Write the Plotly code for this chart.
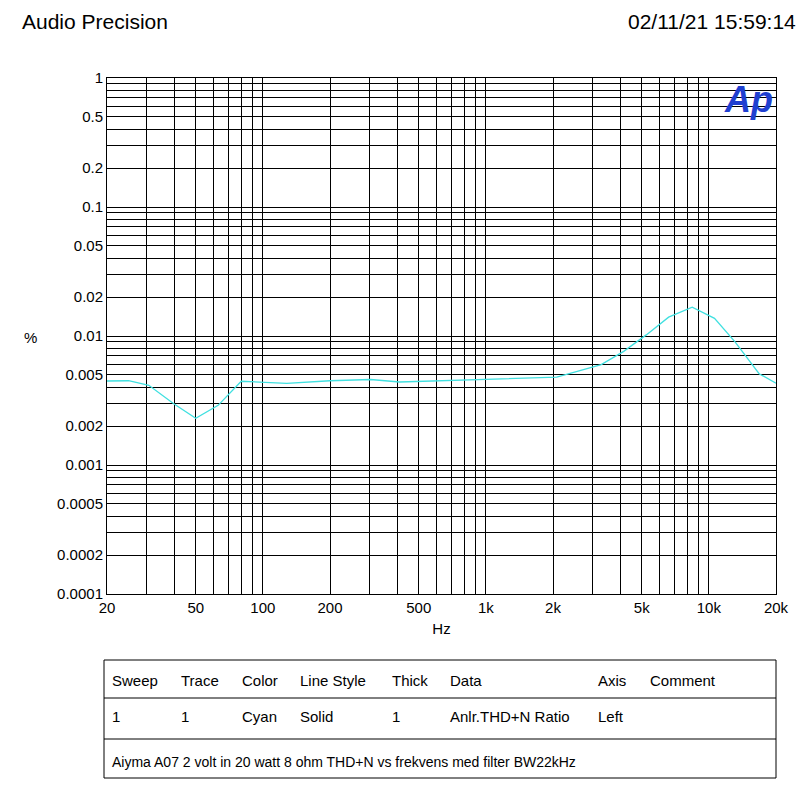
import plotly.graph_objects as go

freq = [20, 25, 30.8, 39.7, 50, 63, 80, 128, 200, 304, 410, 608, 915, 1320, 2080, 3290, 4150, 5240, 6600, 8420, 10600, 13100, 16800, 20000]
thdn = [0.00448, 0.0045, 0.00415, 0.0030, 0.0023, 0.0029, 0.00446, 0.0043, 0.0045, 0.0046, 0.0044, 0.0045, 0.0046, 0.00467, 0.0048, 0.006, 0.0076, 0.0102, 0.014, 0.0167, 0.0137, 0.009, 0.0051, 0.0043]

x_labels = {20: "20", 50: "50", 100: "100", 200: "200", 500: "500", 1000: "1k", 2000: "2k", 5000: "5k", 10000: "10k", 20000: "20k"}
y_labels = {1: "1", 0.5: "0.5", 0.2: "0.2", 0.1: "0.1", 0.05: "0.05", 0.02: "0.02", 0.01: "0.01", 0.005: "0.005",
            0.002: "0.002", 0.001: "0.001", 0.0005: "0.0005", 0.0002: "0.0002", 0.0001: "0.0001"}

xt = []
for d in [10, 100, 1000, 10000]:
    for m in range(1, 10):
        v = m * d
        if 20 <= v <= 20000:
            xt.append(v)
xt.append(20000)
xt = sorted(set(xt))
yt = []
for d in [0.0001, 0.001, 0.01, 0.1]:
    for m in range(1, 10):
        yt.append(round(m * d, 6))
yt.append(1)

def lab(dct, v):
    for k, s in dct.items():
        if abs(k - v) / k < 1e-6:
            return s
    return ""

F = "Liberation Sans, Arial, sans-serif"
fig = go.Figure(go.Scatter(x=freq, y=thdn, mode="lines", line=dict(color="#40E0E0", width=1.3)))

fig.update_layout(
    width=806, height=788, margin=dict(l=99, r=38, t=70, b=202),
    paper_bgcolor="white", plot_bgcolor="white", showlegend=False,
    font=dict(family=F, size=15, color="black"),
)
fig.update_xaxes(type="log", range=[1.30103, 4.30103], tickvals=xt, ticktext=[lab(x_labels, v) for v in xt],
                 showgrid=True, gridcolor="black", gridwidth=1, showline=True, linecolor="black", mirror=True,
                 ticks="", title=dict(text="Hz", font=dict(size=15), standoff=8))
fig.update_yaxes(type="log", range=[-4, 0], tickvals=yt, ticktext=[lab(y_labels, v) for v in yt],
                 showgrid=True, gridcolor="black", gridwidth=1, showline=True, linecolor="black", mirror=True,
                 ticks="")

def px(x): return (x - 107) / 669
def py(y): return (594 - y) / 516

ann = [
    dict(text="Audio Precision", x=px(20), y=py(21), xanchor="left", font=dict(size=21)),
    dict(text="02/11/21 15:59:14", x=px(798), y=py(21), xanchor="right", font=dict(size=21)),
    dict(text="%", x=px(30), y=py(337), xanchor="center", font=dict(size=15)),
    dict(text="<b><i>Ap</i></b>", x=px(748), y=py(100), xanchor="center", font=dict(size=36, color="#1F3FD0")),
]
cols = [("Sweep", 110), ("Trace", 179), ("Color", 240), ("Line Style", 298), ("Thick", 390), ("Data", 448), ("Axis", 596), ("Comment", 648)]
row1 = [("1", 110), ("1", 179), ("Cyan", 240), ("Solid", 298), ("1", 390), ("Anlr.THD+N Ratio", 448), ("Left", 596)]
for t, x in cols:
    ann.append(dict(text=t, x=px(x), y=py(680), xanchor="left"))
for t, x in row1:
    ann.append(dict(text=t, x=px(x), y=py(716), xanchor="left"))
ann.append(dict(text="Aiyma A07 2 volt in 20 watt 8 ohm THD+N vs frekvens med filter BW22kHz", x=px(110), y=py(762), xanchor="left", font=dict(size=14)))
for a in ann:
    a.update(xref="paper", yref="paper", showarrow=False, yanchor="middle")
    fig.add_annotation(**a)

shapes = [
    dict(type="rect", x0=px(104), x1=px(776), y0=py(660), y1=py(778)),
    dict(type="line", x0=px(104), x1=px(776), y0=py(698), y1=py(698)),
    dict(type="line", x0=px(104), x1=px(776), y0=py(739), y1=py(739)),
]
for s in shapes:
    s.update(xref="paper", yref="paper", line=dict(color="black", width=1))
    fig.add_shape(**s)

fig.write_html("out.html")
